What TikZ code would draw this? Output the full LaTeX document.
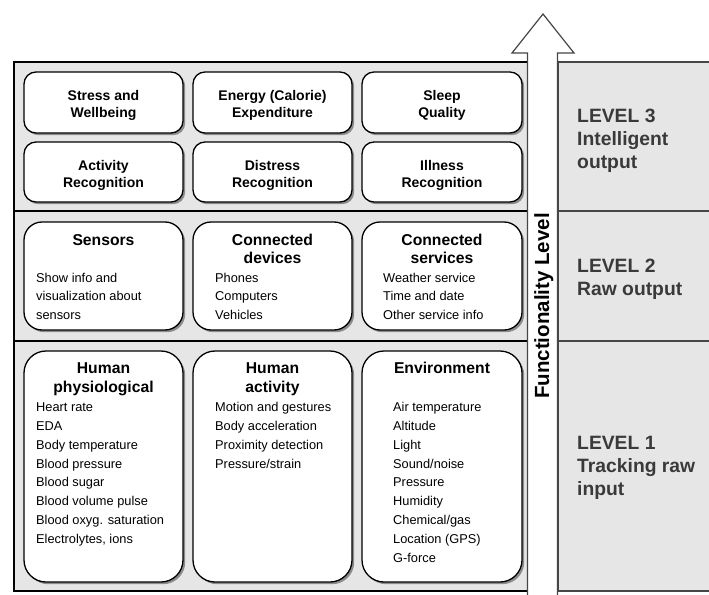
\documentclass[tikz,border=0pt]{standalone}
\usepackage{fontspec}
\setmainfont{Liberation Sans}
\usetikzlibrary{shadows}
\definecolor{panelgray}{RGB}{230,230,230}
\definecolor{lvltext}{RGB}{58,58,58}
\definecolor{arrowline}{RGB}{70,70,70}
\newcommand\ctlines[2]{\vtop{\baselineskip=#1\relax\halign{\hfil##\hfil\cr#2\crcr}}}
\newcommand\ltlines[2]{\vtop{\baselineskip=#1\relax\halign{##\hfil\cr#2\crcr}}}
\begin{document}
\begin{tikzpicture}[x=1pt,y=-1pt,
  panel/.style={fill=panelgray, draw=black, line width=1.6pt},
  rpanel/.style={fill=panelgray, draw=arrowline, line width=1.2pt},
  divider/.style={draw=black, line width=1.4pt},
  rdivider/.style={draw=arrowline, line width=1.2pt},
  card/.style={draw=black, fill=white, line width=1.3pt, rounded corners=#1, inner sep=0pt,
    drop shadow={shadow xshift=2.2pt, shadow yshift=-2.2pt, fill=black!45, opacity=1}},
  smallttl/.style={inner sep=0pt, anchor=base, font=\bfseries\fontsize{14}{17}\selectfont},
  bigttl/.style={inner sep=0pt, anchor=base, font=\bfseries\fontsize{15.7}{19}\selectfont},
  bodytxt/.style={inner sep=0pt, anchor=base west, font=\fontsize{12.8}{18.8}\selectfont},
  lvl/.style={inner sep=0pt, anchor=base west, text=lvltext, font=\bfseries\fontsize{19.3}{23}\selectfont},
  bigarrow/.style={fill=white, draw=arrowline, line width=1.2pt, line join=miter}
]
\useasboundingbox (0,0) rectangle (709,594);

% panels
\path[panel] (14,62) rectangle (527.5,591);
\path[rpanel] (558,62) rectangle (712,591);
\draw[divider] (14,211) -- (527.5,211);
\draw[divider] (14,341) -- (527.5,341);
\draw[rdivider] (558,211) -- (712,211);
\draw[rdivider] (558,341) -- (712,341);

% arrow
\path[bigarrow] (527.5,598) -- (527.5,53) -- (512,53) -- (543,14) -- (574,53) -- (557.5,53) -- (557.5,598);
\node[inner sep=0pt, anchor=base, rotate=90, font=\bfseries\fontsize{20.5}{24}\selectfont] (func) at (549,306) {Functionality Level};

% level 3 cards
\node[card=12pt, minimum width=159pt, minimum height=61pt] (c31) at (103.5,102.5) {};
\node[card=12pt, minimum width=159pt, minimum height=61pt] (c32) at (272.5,102.5) {};
\node[card=12pt, minimum width=160pt, minimum height=61pt] (c33) at (442,102.5) {};
\node[card=12pt, minimum width=159pt, minimum height=60pt] (c34) at (103.5,172) {};
\node[card=12pt, minimum width=159pt, minimum height=60pt] (c35) at (272.5,172) {};
\node[card=12pt, minimum width=160pt, minimum height=60pt] (c36) at (442,172) {};
\node[smallttl] (t31) at (103.5,100) {\ctlines{17pt}{Stress and\cr Wellbeing}};
\node[smallttl] (t32) at (272.5,100) {\ctlines{17pt}{Energy (Calorie)\cr Expenditure}};
\node[smallttl] (t33) at (442,100) {\ctlines{17pt}{Sleep\cr Quality}};
\node[smallttl] (t34) at (103.5,170) {\ctlines{17pt}{Activity\cr Recognition}};
\node[smallttl] (t35) at (272.5,170) {\ctlines{17pt}{Distress\cr Recognition}};
\node[smallttl] (t36) at (442,170) {\ctlines{17pt}{Illness\cr Recognition}};

% level 2 cards
\node[card=18pt, minimum width=159pt, minimum height=108pt] (c21) at (103.5,276) {};
\node[card=18pt, minimum width=159pt, minimum height=108pt] (c22) at (272.5,276) {};
\node[card=18pt, minimum width=160pt, minimum height=108pt] (c23) at (442,276) {};
\node[bigttl] (t21) at (103.5,245) {Sensors};
\node[bigttl] (t22) at (272.5,245) {\ctlines{18.5pt}{Connected\cr devices}};
\node[bigttl] (t23) at (442,245) {\ctlines{18.5pt}{Connected\cr services}};
\node[bodytxt] (b21) at (36,282) {\ltlines{18.6pt}{Show info and\cr visualization about\cr sensors}};
\node[bodytxt] (b22) at (215,282) {\ltlines{18.6pt}{Phones\cr Computers\cr Vehicles}};
\node[bodytxt] (b23) at (383,282) {\ltlines{18.6pt}{Weather service\cr Time and date\cr Other service info}};

% level 1 cards
\node[card=22pt, minimum width=159pt, minimum height=231pt] (c11) at (103.5,466.5) {};
\node[card=22pt, minimum width=159pt, minimum height=231pt] (c12) at (272.5,466.5) {};
\node[card=22pt, minimum width=160pt, minimum height=231pt] (c13) at (442,466.5) {};
\node[bigttl] (t11) at (103.5,373) {\ctlines{19pt}{Human\cr physiological}};
\node[bigttl] (t12) at (272.5,373) {\ctlines{19pt}{Human\cr activity}};
\node[bigttl] (t13) at (442,373) {Environment};
\node[bodytxt] (b11) at (36,411.7) {\ltlines{18.8pt}{Heart rate\cr EDA\cr Body temperature\cr Blood pressure\cr Blood sugar\cr Blood volume pulse\cr Blood oxyg. saturation\cr Electrolytes, ions}};
\node[bodytxt] (b12) at (215,411.7) {\ltlines{18.8pt}{Motion and gestures\cr Body acceleration\cr Proximity detection\cr Pressure/strain}};
\node[bodytxt] (b13) at (393,411.7) {\ltlines{18.8pt}{Air temperature\cr Altitude\cr Light\cr Sound/noise\cr Pressure\cr Humidity\cr Chemical/gas\cr Location (GPS)\cr G-force}};

% level labels
\node[lvl] (l3) at (577,122) {\ltlines{23pt}{LEVEL 3\cr Intelligent\cr output}};
\node[lvl] (l2) at (577,272) {\ltlines{23pt}{LEVEL 2\cr Raw output}};
\node[lvl] (l1) at (577,449) {\ltlines{23pt}{LEVEL 1\cr Tracking raw\cr input}};
\end{tikzpicture}
\end{document}
